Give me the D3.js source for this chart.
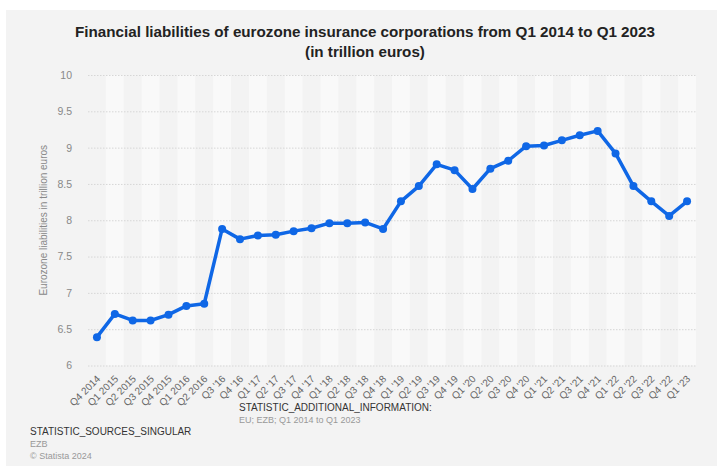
<!doctype html>
<html>
<head>
  <style>
    body { margin:0; background:#fff; font-family:"Liberation Sans", Arial, Helvetica, sans-serif; }
    svg text { font-family:"Liberation Sans", Arial, Helvetica, sans-serif; }
  </style>
  <script src="https://d3js.org/d3.v7.min.js"></script>
</head>
<body>
<script>
  // quarters shown on the x axis
  var quarters = ["Q4 2014","Q1 2015","Q2 2015","Q3 2015","Q4 2015","Q1 2016","Q2 2016",
    "Q3 '16","Q4 '16","Q1 '17","Q2 '17","Q3 '17","Q4 '17","Q1 '18","Q2 '18","Q3 '18","Q4 '18",
    "Q1 '19","Q2 '19","Q3 '19","Q4 '19","Q1 '20","Q2 '20","Q3 '20","Q4 '20",
    "Q1 '21","Q2 '21","Q3 '21","Q4 '21","Q1 '22","Q2 '22","Q3 '22","Q4 '22","Q1 '23"];
  // liabilities in trillion euros
  var liabilities = [6.39,6.71,6.62,6.62,6.70,6.82,6.85,
    7.88,7.74,7.79,7.80,7.85,7.89,7.96,7.96,7.97,7.88,
    8.26,8.47,8.77,8.69,8.43,8.71,8.82,9.02,
    9.03,9.10,9.17,9.23,8.92,8.47,8.26,8.06,8.26];
  var yTicks = [6,6.5,7,7.5,8,8.5,9,9.5,10];

  var W = 717, H = 472;
  var svg = d3.select("body").append("svg")
    .attr("width", W).attr("height", H);

  svg.append("rect")
    .attr("x", 6).attr("y", 10)
    .attr("width", W - 6).attr("height", 456)
    .attr("fill", "#f3f3f3");

  // title
  svg.append("text")
    .attr("x", 365).attr("y", 37)
    .attr("text-anchor", "middle")
    .style("font-weight", "bold").style("font-size", "15.2px").attr("fill", "#222")
    .text("Financial liabilities of eurozone insurance corporations from Q1 2014 to Q1 2023");
  svg.append("text")
    .attr("x", 365).attr("y", 57)
    .attr("text-anchor", "middle")
    .style("font-weight", "bold").style("font-size", "15.2px").attr("fill", "#222")
    .text("(in trillion euros)");

  var pLeft = 88, pRight = 696, pTop = 75, pBottom = 365.5;

  var x = d3.scaleBand().domain(quarters).range([pLeft, pRight]);
  var y = d3.scaleLinear().domain([6, 10]).range([pBottom, pTop]);

  // alternating column bands
  svg.append("g").selectAll("rect")
    .data(quarters.filter(function(d, i) { return i % 2 == 1; }))
    .enter().append("rect")
      .attr("x", function(d) { return x(d); })
      .attr("y", pTop)
      .attr("width", x.bandwidth())
      .attr("height", pBottom - pTop)
      .attr("fill", "#f9f9f9");

  // y grid + labels
  var yAxis = svg.append("g")
    .attr("transform", "translate(" + pLeft + ",0)")
    .call(d3.axisLeft(y).tickValues(yTicks).tickSize(-(pRight - pLeft)).tickPadding(16)
      .tickFormat(function(d) { return d3.format("")(d); }));
  yAxis.select(".domain").remove();
  yAxis.selectAll(".tick line")
    .attr("stroke", "#d6d6d6").attr("stroke-dasharray", "1.5,1.5");
  yAxis.selectAll(".tick text")
    .attr("fill", "#888").style("font-size", "10.5px");

  svg.append("text")
    .attr("transform", "translate(47," + ((pTop + pBottom) / 2) + ") rotate(-90)")
    .attr("text-anchor", "middle")
    .attr("fill", "#888").style("font-size", "10px")
    .text("Eurozone liabilities in trillion euros");

  // x labels
  var xAxis = svg.append("g")
    .attr("transform", "translate(0," + pBottom + ")")
    .call(d3.axisBottom(x).tickSize(0).tickPadding(0));
  xAxis.select(".domain").remove();
  xAxis.selectAll(".tick text")
    .attr("fill", "#666").style("font-size", "10px")
    .attr("text-anchor", "end")
    .attr("dy", 0)
    .attr("y", 0)
    .attr("transform", "translate(4,14) rotate(-45)");

  // line
  var pts = quarters.map(function(q, i) { return {q: q, v: liabilities[i]}; });
  var line = d3.line()
    .x(function(d) { return x(d.q) + x.bandwidth() / 2; })
    .y(function(d) { return y(d.v); });
  svg.append("path")
    .datum(pts)
    .attr("d", line)
    .attr("fill", "none")
    .attr("stroke", "#0f67e6")
    .attr("stroke-width", 3.5)
    .attr("stroke-linejoin", "round");
  svg.append("g").selectAll("circle")
    .data(pts)
    .enter().append("circle")
      .attr("cx", function(d) { return x(d.q) + x.bandwidth() / 2; })
      .attr("cy", function(d) { return y(d.v); })
      .attr("r", 4)
      .attr("fill", "#0f67e6");

  // footer
  svg.append("text").attr("x", 239).attr("y", 411)
    .attr("fill", "#333").style("font-size", "10px")
    .text("STATISTIC_ADDITIONAL_INFORMATION:");
  svg.append("text").attr("x", 239).attr("y", 423)
    .attr("fill", "#999").style("font-size", "9px")
    .text("EU; EZB; Q1 2014 to Q1 2023");
  svg.append("text").attr("x", 30).attr("y", 435)
    .attr("fill", "#333").style("font-size", "10px")
    .text("STATISTIC_SOURCES_SINGULAR");
  svg.append("text").attr("x", 30).attr("y", 447)
    .attr("fill", "#999").style("font-size", "9px")
    .text("EZB");
  svg.append("text").attr("x", 30).attr("y", 459)
    .attr("fill", "#999").style("font-size", "9px")
    .text("\u00a9 Statista 2024");
</script>
</body>
</html>
